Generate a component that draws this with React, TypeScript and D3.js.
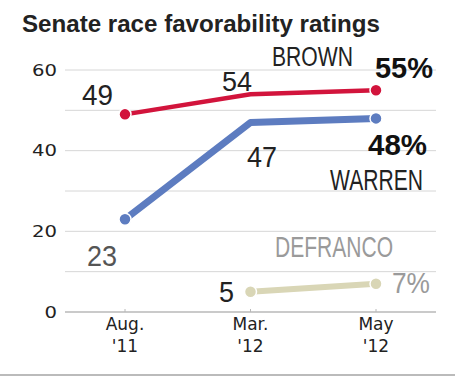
import React from "react";
import * as d3 from "d3";

const periods = ["Aug.\n'11", "Mar.\n'12", "May\n'12"];
const brown = [49, 54, 55];
const warren = [23, 47, 48];
const defranco: (number | null)[] = [null, 5, 7];
const yTicks = [0, 20, 40, 60];
const gridVals = [0, 10, 20, 30, 40, 50, 60];

const W = 455, H = 377;
const narrow = "'Liberation Sans', Arial, sans-serif";
const sans = "'DejaVu Sans', Verdana, sans-serif";

export default function App() {
  const x = d3.scalePoint<string>().domain(periods).range([125, 376]);
  const y = d3.scaleLinear().domain([0, 60]).range([312, 70]);
  const mk = (vals: (number | null)[]) =>
    d3.line<number | null>()
      .defined((d) => d !== null)
      .x((_, i) => x(periods[i])!)
      .y((d) => y(d as number))(vals) || "";

  const series = [
    { vals: brown, color: "#d2143c", width: 4.5 },
    { vals: warren, color: "#5d7cc0", width: 7 },
    { vals: defranco, color: "#d9d6b6", width: 6 },
  ];

  const T = (props: any) => (
    <text {...props} lengthAdjust="spacingAndGlyphs" />
  );

  return (
    <svg width={W} height={H} style={{ position: "absolute", left: 0, top: 0 }}>
      <rect width={W} height={H} fill="#fff" />
      <T x={22} y={32} fontFamily={narrow} fontWeight="bold" fontSize={24} fill="#222" textLength={358}>
        Senate race favorability ratings
      </T>
      {gridVals.map((v) => (
        <line key={v} x1={65} x2={436} y1={y(v)} y2={y(v)} stroke={v === 0 ? "#b8b8b8" : "#d6d6d6"} strokeWidth={v === 0 ? 1.5 : 1} />
      ))}
      {periods.map((p) => (
        <line key={p} x1={x(p)} x2={x(p)} y1={y(0) - 3} y2={y(0)} stroke="#b8b8b8" />
      ))}
      {yTicks.map((v) => (
        <T key={v} x={57} y={y(v) + 5.5} textAnchor="end" fontFamily={sans} fontSize={15} fill="#222" textLength={String(v).length * 12.5}>{v}</T>
      ))}
      {periods.map((p) => {
        const [a, b] = p.split("\n");
        return (
          <text key={p} textAnchor="middle" fontFamily={sans} fontSize={17} fill="#222">
            <tspan x={x(p)} y={330}>{a}</tspan>
            <tspan x={x(p)} y={352}>{b}</tspan>
          </text>
        );
      })}
      {series.map((s, k) => (
        <g key={k}>
          <path d={mk(s.vals)} fill="none" stroke={s.color} strokeWidth={s.width} strokeLinejoin="round" />
          {s.vals.map((v, i) =>
            (k === 0 && i === 1) || (k === 1 && i === 1) || v === null ? null : (
              <circle key={i} cx={x(periods[i])} cy={y(v)} r={6} fill={s.color} stroke="#fff" strokeWidth={1.5} />
            )
          )}
        </g>
      ))}
      <g fontFamily={narrow} fontSize={30}>
        <T x={82} y={105} fill="#222" textLength={31}>{brown[0]}</T>
        <T x={222} y={91} fill="#222" textLength={30} fontSize={28}>{brown[1]}</T>
        <T x={375} y={78} fontWeight="bold" fill="#111" textLength={58}>{brown[2]}%</T>
        <T x={272} y={66} fill="#222" textLength={81} fontSize={27}>BROWN</T>
        <T x={247} y={166.5} fill="#222" textLength={30}>{warren[1]}</T>
        <T x={368} y={155} fontWeight="bold" fill="#111" textLength={59}>{warren[2]}%</T>
        <T x={330} y={190} fill="#222" textLength={93}>WARREN</T>
        <T x={87} y={266} fill="#555" textLength={30}>{warren[0]}</T>
        <T x={275} y={256.5} fill="#9a9a9a" textLength={118}>DEFRANCO</T>
        <T x={219} y={301.5} fill="#222" textLength={15}>{defranco[1]}</T>
        <T x={392} y={293} fill="#9a9a9a" textLength={38}>{defranco[2]}%</T>
      </g>
      <line x1={0} x2={W} y1={375} y2={375} stroke="#bbb" strokeWidth={2} />
    </svg>
  );
}
